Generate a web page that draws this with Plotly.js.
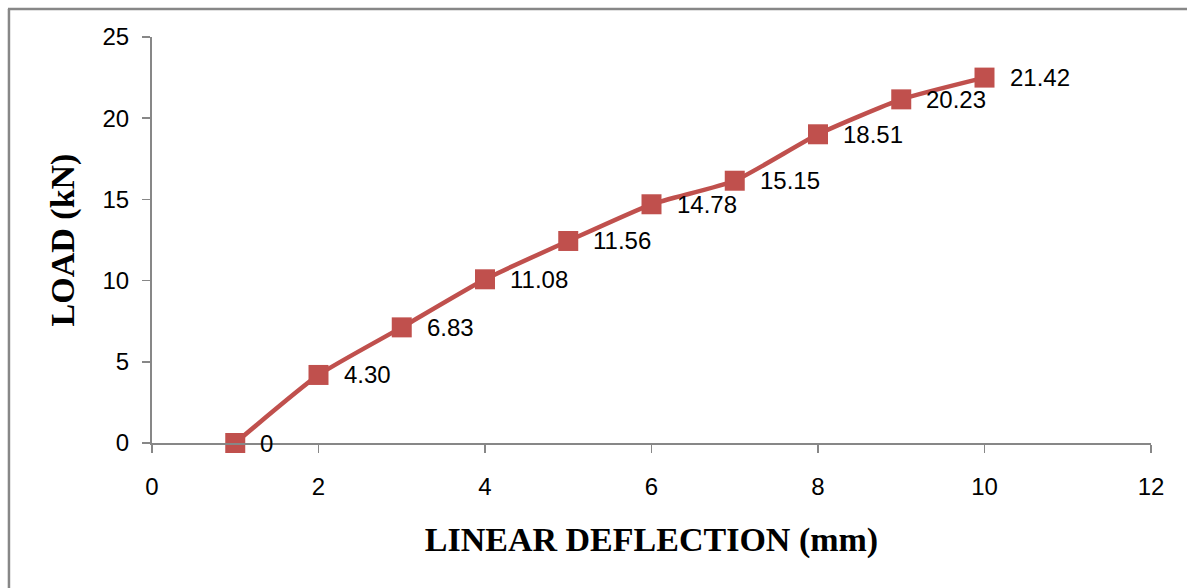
<!DOCTYPE html>
<html>
<head>
<meta charset="utf-8">
<script src="https://cdn.plot.ly/plotly-3.0.1.min.js"></script>
<style>
  html, body { margin: 0; padding: 0; background: #fff; }
  #chart { width: 1187px; height: 588px; }
</style>
</head>
<body>
<div id="chart"></div>
<script>
// Data
const deflection = [1, 2, 3, 4, 5, 6, 7, 8, 9, 10];
const load = [0, 4.19, 7.12, 10.08, 12.44, 14.70, 16.15, 19.01, 21.16, 22.50];
const loadLabels = ["0", "4.30", "6.83", "11.08", "11.56", "14.78", "15.15", "18.51", "20.23", "21.42"];
const xTicks = [0, 2, 4, 6, 8, 10, 12];
const yTicks = [0, 5, 10, 15, 20, 25];

const red = '#C0504D';
const gray = '#878787';
const tickFont = { family: 'Liberation Sans, Arial, sans-serif', size: 24, color: '#000' };
const titleFont = { family: 'Liberation Serif, Times New Roman, serif', size: 34, color: '#000', weight: 'bold' };

const trace = {
  x: deflection,
  y: load,
  type: 'scatter',
  mode: 'lines+markers',
  line: { color: red, width: 4.5, shape: 'spline', smoothing: 0.5 },
  marker: { symbol: 'square', size: 20, color: red, line: { color: red, width: 0 } },
  cliponaxis: false,
  hoverinfo: 'x+y'
};

const labelAnnotations = deflection.map((xv, i) => ({
  x: xv, y: load[i], xref: 'x', yref: 'y',
  text: loadLabels[i], showarrow: false,
  xanchor: 'left', yanchor: 'middle', xshift: 23, yshift: 0,
  font: tickFont
}));

const L = 152, R = 36.3, T = 37, B = 145;
const W = 1187, H = 588;
const pw = W - L - R, ph = H - T - B;
const px = v => (v - L) / pw;
const py = v => (H - B - v) / ph;

const layout = {
  width: W,
  height: H,
  margin: { l: L, r: R, t: T, b: B, pad: 0 },
  paper_bgcolor: '#fff',
  plot_bgcolor: '#fff',
  showlegend: false,
  xaxis: {
    range: [0, 12],
    tickvals: xTicks,
    ticktext: xTicks.map(String),
    ticks: 'outside',
    ticklen: 8,
    tickwidth: 1.5,
    tickcolor: gray,
    showline: true,
    linecolor: gray,
    linewidth: 2,
    showgrid: false,
    zeroline: false,
    tickfont: tickFont,
    ticklabelstandoff: 13,
    title: { text: 'LINEAR DEFLECTION (mm)', font: titleFont, standoff: 28 },
    automargin: false
  },
  yaxis: {
    range: [0, 25],
    tickvals: yTicks,
    ticktext: yTicks.map(String),
    ticks: 'outside',
    ticklen: 8,
    tickwidth: 1.5,
    tickcolor: gray,
    showline: true,
    linecolor: gray,
    linewidth: 2,
    showgrid: false,
    zeroline: false,
    tickfont: tickFont,
    ticklabelstandoff: 8,
    title: { text: 'LOAD (kN)', font: titleFont, standoff: 18 },
    automargin: false
  },
  annotations: labelAnnotations,
  shapes: [
    { type: 'line', xref: 'paper', yref: 'paper', x0: px(9), x1: px(9), y0: py(9), y1: py(600), line: { color: gray, width: 2.5 } },
    { type: 'line', xref: 'paper', yref: 'paper', x0: px(8), x1: px(1200), y0: py(9), y1: py(9), line: { color: gray, width: 2.5 } }
  ]
};

Plotly.newPlot('chart', [trace], layout, { displayModeBar: false, staticPlot: true });
</script>
</body>
</html>
